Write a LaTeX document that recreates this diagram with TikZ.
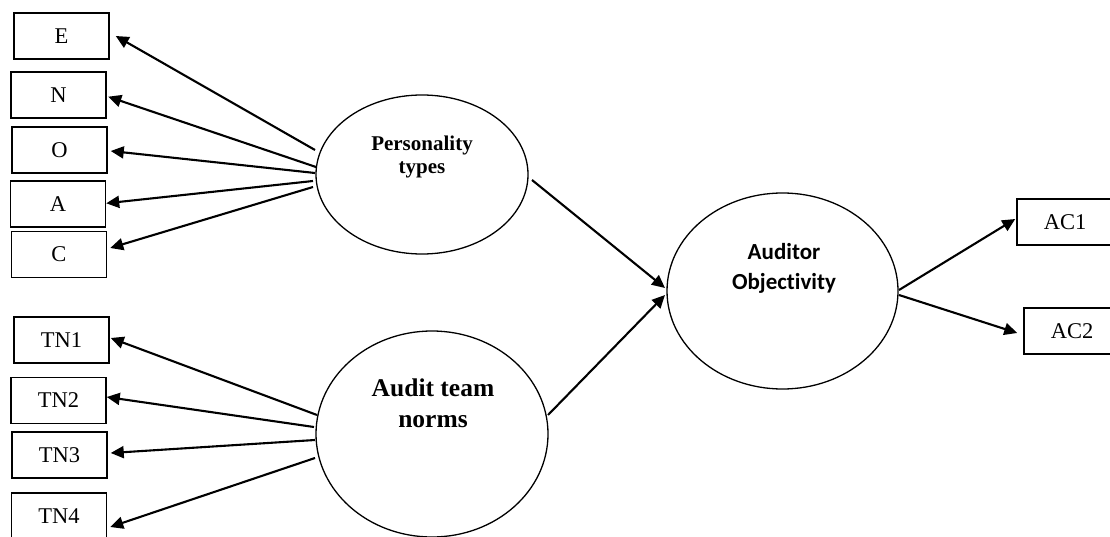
\documentclass[tikz,border=0pt]{standalone}
\usepackage{fontspec}
\setmainfont{Liberation Serif}
\newfontfamily\calibfont[Ligatures=NoCommon]{Carlito}
\usetikzlibrary{shapes.geometric,arrows.meta}
\tikzset{
  ind/.style={draw, line width=1.5pt, rectangle, minimum width=95pt, minimum height=46pt, inner sep=0pt, font=\fontsize{22.5}{24}\selectfont},
  lat/.style={draw, line width=1.3pt, ellipse, inner sep=0pt},
  arr/.style={line width=2.1pt, -{Triangle[length=13pt,width=12pt]}},
}
\begin{document}
\begin{tikzpicture}[x=1pt,y=-1pt]
\fill[white] (0,0) rectangle (1110,537);
\useasboundingbox (0,0) rectangle (1110,537);
\clip (0,0) rectangle (1110,537);

% indicator boxes
\node[ind] (E) at (61.5,36) {E};
\node[ind] (N) at (58.5,95) {N};
\node[ind] (O) at (59.5,150) {O};
\node[ind] (A) at (58,204) {A};
\node[ind] (C) at (59,254.5) {C};
\node[ind] (TN1) at (61.5,340) {TN1};
\node[ind] (TN2) at (58.5,400.5) {TN2};
\node[ind] (TN3) at (59.5,455) {TN3};
\node[ind] (TN4) at (59,516) {TN4};
\node[ind, minimum width=96pt] (AC1) at (1065,222) {AC1};
\node[ind, minimum width=96pt] (AC2) at (1072,331) {AC2};

% latent variables
\node[lat, minimum width=212pt, minimum height=159pt,
  label={[yshift=18pt, align=center, font=\fontsize{21}{23}\selectfont\bfseries]center:Personality\\types}] (P) at (422,174.5) {};
\node[lat, minimum width=232pt, minimum height=206pt,
  label={[yshift=31pt, xshift=1pt, align=center, font=\fontsize{25.5}{31}\selectfont\bfseries]center:Audit team\\norms}] (T) at (432,434) {};
\node[lat, minimum width=231pt, minimum height=196pt,
  label={[yshift=23pt, xshift=1.5pt, align=center, font=\calibfont\fontsize{23}{30}\selectfont\bfseries]center:Auditor\\Objectivity}] (AO) at (782.5,291) {};

% personality arrows
\draw[arr] ([shift={(-107,-24.5)}]P.center) -- ([shift={(6,0)}]E.east);
\draw[arr] ([shift={(-106,-7.5)}]P.center) -- ([shift={(1.5,1.7)}]N.east);
\draw[arr] ([shift={(-107,-1.5)}]P.center) -- ([shift={(3,1)}]O.east);
\draw[arr] ([shift={(-109,6.5)}]P.center) -- ([shift={(0,-0.7)}]A.east);
\draw[arr] ([shift={(-109,12.5)}]P.center) -- ([shift={(3,-6.5)}]C.east);

% team norm arrows
\draw[arr] ([shift={(-115,-19)}]T.center) -- ([shift={(1,-2)}]TN1.east);
\draw[arr] ([shift={(-118,-7)}]T.center) -- ([shift={(0,-3.5)}]TN2.east);
\draw[arr] ([shift={(-117,6)}]T.center) -- ([shift={(3,-2)}]TN3.east);
\draw[arr] ([shift={(-117,24)}]T.center) -- ([shift={(3,11)}]TN4.east);

% structural arrows
\draw[arr] ([shift={(110,5.5)}]P.center) -- ([shift={(-117.5,-3)}]AO.center);
\draw[arr] ([shift={(116,-19)}]T.center) -- ([shift={(-117.5,4)}]AO.center);
\draw[arr] ([shift={(116.5,-1)}]AO.center) -- ([shift={(-1,-3)}]AC1.west);
\draw[arr] ([shift={(116.5,4)}]AO.center) -- ([shift={(-6,2)}]AC2.west);
\end{tikzpicture}
\end{document}
